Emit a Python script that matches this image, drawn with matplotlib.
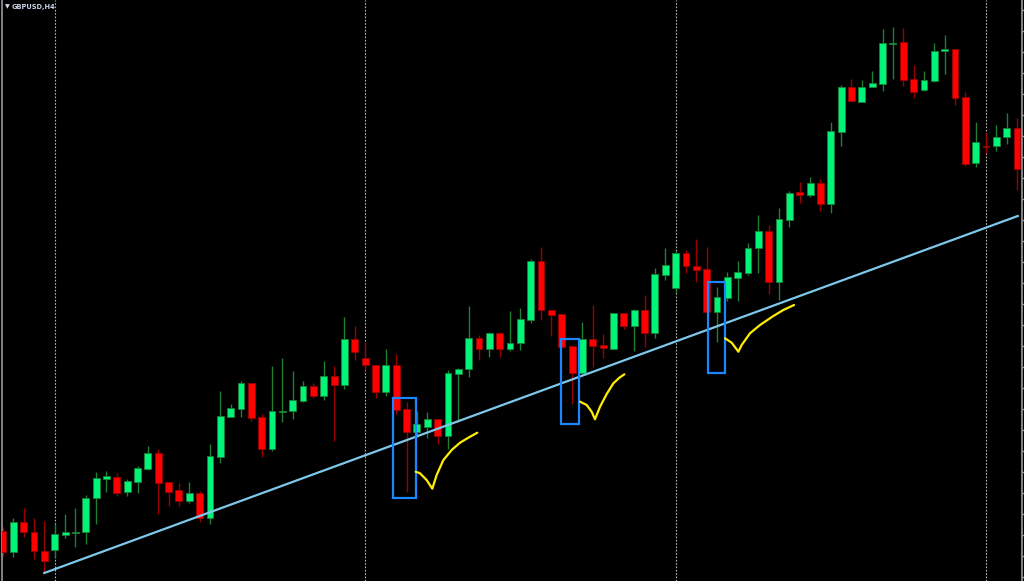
import numpy as np
import matplotlib
matplotlib.use("Agg")
import matplotlib.pyplot as plt
from matplotlib.patches import Rectangle

# GBPUSD H4 candles (price in chart points)
opens = [50, 29, 59, 49, 30, 31, 46, 48, 49, 83, 102, 104, 89, 99, 112, 128, 99, 91, 80, 88,
         63, 124, 164, 172, 198, 164, 132, 169, 170, 180, 195, 185, 205, 196, 242, 223, 216, 189, 216, 172,
         149, 154, 162, 145, 207, 212, 243, 232, 248, 232, 238, 261, 320, 271, 267, 235, 208, 242, 236, 232,
         268, 255, 271, 248, 306, 293, 328, 315, 312, 269, 283, 303, 308, 333, 350, 299, 361, 389, 386, 398,
         377, 449, 494, 479, 494, 497, 537, 539, 502, 491, 500, 530, 532, 484, 418, 435, 435, 444, 453]
highs = [54, 63, 73, 63, 60, 57, 67, 73, 86, 109, 110, 108, 102, 115, 135, 132, 99, 98, 99, 90,
         137, 190, 177, 200, 198, 167, 215, 223, 210, 200, 198, 220, 215, 264, 255, 239, 216, 232, 227, 179,
         170, 169, 162, 211, 213, 275, 246, 249, 249, 270, 273, 322, 334, 271, 267, 235, 259, 276, 247, 268,
         268, 272, 286, 313, 333, 330, 331, 342, 334, 294, 309, 320, 338, 366, 356, 373, 390, 399, 404, 402,
         459, 496, 502, 501, 510, 552, 554, 553, 516, 510, 538, 546, 532, 489, 459, 448, 456, 468, 463]
lows = [25, 24, 44, 22, 8, 24, 43, 34, 37, 57, 89, 85, 85, 88, 111, 67, 75, 75, 78, 59,
        57, 118, 164, 164, 160, 124, 130, 159, 162, 179, 183, 181, 140, 192, 221, 211, 183, 185, 167, 89,
        144, 143, 137, 132, 159, 204, 221, 224, 224, 230, 231, 258, 261, 245, 234, 177, 206, 214, 223, 232,
        252, 230, 234, 243, 301, 288, 308, 299, 269, 239, 280, 280, 306, 308, 287, 281, 354, 378, 384, 370,
        368, 435, 480, 479, 494, 490, 502, 495, 483, 490, 499, 507, 476, 415, 414, 428, 430, 437, 391]
closes = [29, 59, 49, 30, 20, 47, 49, 49, 83, 103, 105, 88, 100, 113, 128, 98, 89, 80, 88, 63,
          125, 165, 173, 198, 163, 132, 170, 170, 181, 195, 185, 205, 196, 242, 229, 216, 189, 216, 171, 149,
          157, 162, 145, 208, 212, 243, 232, 248, 232, 238, 262, 320, 271, 266, 234, 208, 242, 235, 233, 268,
          255, 271, 248, 307, 316, 328, 315, 311, 269, 284, 304, 309, 333, 350, 299, 362, 388, 386, 398, 377,
          450, 494, 480, 494, 498, 538, 538, 501, 489, 501, 530, 532, 483, 417, 439, 434, 444, 453, 412]

# vertical separators every 30 bars
separator_bars = [5, 35, 65, 95]

# support trendline: (bar, price)
trend_bars = [3.99, 98.07]
trend_prices = [8, 365]

# blue highlight boxes: (bar_left, bar_right, price_low, price_high)
box_left = [37.66, 53.96, 68.17]
box_right = [39.91, 55.70, 69.75]
box_low = [82.7, 156.7, 208.3]
box_high = [183.3, 241.7, 299.3]

# hand-drawn yellow ticks
tick1_x = [39.88, 40.30, 40.94, 41.49, 41.91, 42.56, 43.36, 44.17, 44.97, 45.84]
tick1_y = [109.3, 107.7, 101, 92.3, 106, 121, 131, 138.3, 143.3, 148.3]
tick2_x = [55.77, 56.41, 56.89, 57.21, 57.70, 58.34, 58.99, 59.57, 60.05]
tick2_y = [179.3, 176, 169.3, 161.7, 174.3, 187, 197.7, 203.3, 206.7]
tick3_x = [69.78, 70.42, 71.07, 71.39, 72.19, 73.16, 74.45, 75.41, 76.45]
tick3_y = [242.7, 238.3, 229.3, 236, 247.7, 256, 265, 271, 276]

bull_body, bull_wick = "#00f47a", "#1f7f35"
bear_body, bear_wick = "#ff0000", "#9a0000"

fig = plt.figure(figsize=(10.24, 5.81), dpi=100, facecolor="black")
ax = fig.add_axes([2 / 1024, 0, 1019.7 / 1024, 1])
ax.set_facecolor("black")

o = np.array(opens, dtype=float)
h = np.array(highs, dtype=float)
l = np.array(lows, dtype=float)
c = np.array(closes, dtype=float)
x = np.arange(len(o))
up = c >= o

ax.vlines(x[up], l[up], h[up], color=bull_wick, linewidth=1.0, zorder=2)
ax.vlines(x[~up], l[~up], h[~up], color=bear_wick, linewidth=1.0, zorder=2)

bottoms = np.minimum(o, c)
heights = np.maximum(np.abs(c - o), 1.2)
ax.bar(x[up], heights[up], bottom=bottoms[up], width=0.66, color=bull_body,
       edgecolor=bull_wick, linewidth=0.6, zorder=3)
ax.bar(x[~up], heights[~up], bottom=bottoms[~up], width=0.66, color=bear_body,
       edgecolor=bear_wick, linewidth=0.6, zorder=3)

for s in separator_bars:
    ax.axvline(s, color="#b8b8b8", linewidth=0.8, linestyle=(0, (1.5, 1.5)), zorder=1)

ax.plot(trend_bars, trend_prices, color="#7ec8ea", linewidth=1.6, zorder=4)

for bl, br, lo, hi in zip(box_left, box_right, box_low, box_high):
    ax.add_patch(Rectangle((bl, lo), br - bl, hi - lo, fill=False,
                           edgecolor="#1a86ff", linewidth=1.6, zorder=5))

for tx, ty in [(tick1_x, tick1_y), (tick2_x, tick2_y), (tick3_x, tick3_y)]:
    ax.plot(tx, ty, color="#ffee00", linewidth=1.6, solid_capstyle="round",
            solid_joinstyle="round", zorder=5)

ax.set_xlim(-0.097, 98.45)
ax.set_ylim(0, 581)

for side in ["top", "bottom"]:
    ax.spines[side].set_visible(False)
for side in ["left", "right"]:
    ax.spines[side].set_color("#9a9a9a")
    ax.spines[side].set_linewidth(1.2)
ax.set_xticks([])
ax.yaxis.tick_right()
ax.set_yticks(np.arange(571, 0, -21))
ax.tick_params(axis="y", colors="#9a9a9a", length=2, width=1, labelright=False)

fig.text(5 / 1024, 1 - 7 / 581, "\u25bc", color="#d8dce8", fontsize=4.5, va="center", ha="left")
fig.text(12 / 1024, 1 - 6.5 / 581, "GBPUSD,H4", color="#c9d2e6", fontsize=4.8,
         fontweight="bold", va="center", ha="left")

fig.savefig("out.png", dpi=100, facecolor="black")
